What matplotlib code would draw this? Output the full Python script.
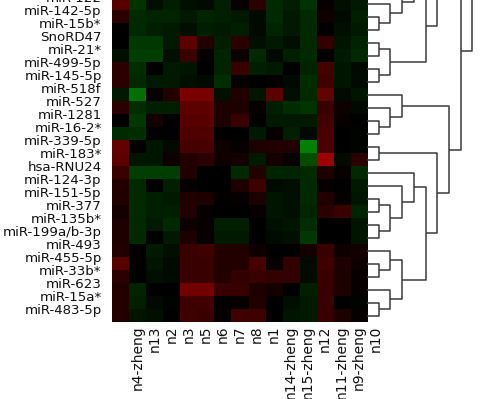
import matplotlib
matplotlib.use("Agg")
import matplotlib.pyplot as plt
import numpy as np
from matplotlib.colors import LinearSegmentedColormap
from matplotlib.transforms import blended_transform_factory, ScaledTranslation

# ---------------- data ----------------
row_labels = ["miR-122", "miR-142-5p", "miR-15b*", "SnoRD47", "miR-21*", "miR-499-5p",
              "miR-145-5p", "miR-518f", "miR-527", "miR-1281", "miR-16-2*", "miR-339-5p",
              "miR-183*", "hsa-RNU24", "miR-124-3p", "miR-151-5p", "miR-377", "miR-135b*",
              "miR-199a/b-3p", "miR-493", "miR-455-5p", "miR-33b*", "miR-623", "miR-15a*",
              "miR-483-5p"]

col_labels = ["n4-zheng", "n13", "n2", "n3", "n5", "n6", "n7", "n8", "n1",
              "n14-zheng", "n15-zheng", "n12", "n11-zheng", "n9-zheng", "n10"]

values = [
    [1.2, -1.0, -0.3, -0.6, -0.3, -0.2, -0.6, 0.1, 0.6, -0.8, -0.6, -1.0, 0.1, -0.3, -0.5],
    [0.6, -0.8, -0.7, -0.7, -0.5, -0.7, -0.6, -0.5, -0.2, -0.8, -0.5, -0.8, 0.2, -0.2, -0.6],
    [0.0, -0.8, -0.6, -0.5, -0.3, -0.6, -0.5, -0.6, -0.2, -0.7, -0.5, -0.8, 0.0, -0.3, -0.5],
    [0.0, -1.1, -1.1, -0.5, 1.3, 0.5, -0.6, 0.6, -0.3, -0.5, -0.3, -0.8, 0.7, -0.4, -0.7],
    [-0.3, -1.2, -1.2, -0.3, 0.8, 0.1, -0.7, 0.2, -0.8, -0.2, -0.6, -0.8, 0.0, -0.5, -0.8],
    [0.6, -0.9, 0.0, -0.5, -0.4, 0.0, -0.7, 0.8, -0.6, -0.5, 0.0, -0.7, 1.0, -0.4, -0.2],
    [0.6, -0.8, -0.5, -0.5, -0.3, -0.2, -0.9, 0.1, 0.0, 0.1, -0.2, -0.9, 0.9, -0.4, -0.2],
    [-0.5, -2.2, 0.1, 0.5, 1.7, 1.7, -0.3, 0.5, -0.4, 1.3, -0.3, -0.8, 1.4, -0.2, -0.4],
    [0.6, -0.9, -0.6, -0.6, 1.3, 1.3, 0.4, 0.4, 0.1, -0.6, -0.9, -1.0, 0.8, 0.2, -0.2],
    [0.0, -1.1, 0.3, 0.0, 1.2, 1.2, 0.4, 0.8, 0.0, -0.5, -0.5, -0.5, 0.9, 0.1, 0.0],
    [-0.8, -0.9, 0.0, 0.0, 1.1, 1.1, 0.0, 0.0, -0.5, 0.1, -0.6, -0.2, 1.0, 0.0, -0.1],
    [1.4, 0.0, -0.4, -0.2, 1.0, 1.0, 0.2, 0.1, 0.4, 0.5, 0.5, -2.5, 1.0, 0.0, -0.1],
    [1.3, -0.4, -0.4, 0.2, 0.5, 0.6, 0.2, 0.3, -0.5, 0.3, 0.1, -1.5, 2.2, -0.2, 0.6],
    [0.8, -1.2, -1.2, -1.2, 0.5, 0.0, 0.0, -0.8, 0.5, -0.7, -0.7, -0.8, 0.4, 0.1, -0.8],
    [0.5, -0.8, 0.0, -0.6, 0.1, 0.0, 0.0, 0.4, 0.9, -0.2, -0.3, -0.8, 0.1, 0.0, -0.5],
    [0.5, -0.8, -0.6, -0.5, 0.5, 0.4, 0.0, 0.1, 0.4, -0.4, -0.3, -0.8, 0.5, 0.1, -0.4],
    [0.3, -0.8, -0.6, -0.6, 0.5, 0.1, 0.0, 0.0, 0.1, -0.4, -0.3, -0.7, 0.6, 0.8, -0.7],
    [0.4, -0.8, -0.5, -0.8, 0.2, 0.1, -0.6, -0.6, 0.0, -0.3, -0.4, -0.9, 0.0, 0.0, -0.4],
    [0.4, -0.8, 0.0, -0.5, 0.4, 0.1, -0.5, -0.5, 0.0, -0.2, -0.3, -1.1, 0.0, 0.0, -0.4],
    [0.5, 0.0, -0.5, -0.3, 0.8, 0.9, 0.5, 0.5, 0.2, 0.0, 0.0, 0.3, 0.8, 0.2, 0.3],
    [1.2, 0.0, -0.4, -0.2, 0.8, 0.8, 0.5, 0.5, 1.0, 0.1, 0.7, -0.2, 0.9, 0.4, 0.2],
    [0.6, 0.0, -0.3, -0.2, 0.8, 0.8, 0.5, 0.7, 0.8, 0.7, 0.7, -0.2, 0.8, 0.4, 0.1],
    [0.5, -0.7, 0.0, 0.0, 1.6, 1.6, 0.8, 0.8, 0.4, 0.3, 0.0, -0.6, 0.8, 0.4, 0.1],
    [0.5, -0.6, -0.2, -0.1, 0.9, 0.9, 0.0, 0.1, 0.5, 0.0, -0.3, -0.5, 0.8, 0.0, -0.1],
    [0.5, -0.4, -0.3, 0.0, 0.9, 0.8, 0.1, 0.9, 0.9, 0.0, -0.4, -0.5, 0.8, 0.4, 0.1],
]

# row dendrogram as nested pairs of row indices (negative = rows above the visible crop)
hidden_upper = ((((-3, -4), (-5, -6)), ((-7, -8), (-9, -10))), ((-11, -12), (-13, -14)))
upper_cluster = (hidden_upper, ((-2, (-1, (0, (1, 2)))), ((3, 4), (5, 6))))
lower_cluster = ((7, (8, (9, 10))),
                 ((11, 12),
                  ((13, (14, ((15, 16), (17, 18)))),
                   ((19, (20, 21)), (22, (23, 24))))))
row_tree = ((-15, -16), (upper_cluster, lower_cluster))

# ---------------- figure ----------------
W, H = 488, 399
fig = plt.figure(figsize=(W / 100, H / 100), dpi=100)
fig.patch.set_facecolor("white")

hm_left, hm_right = 112, 367
hm_top, hm_bottom = -3, 322
ax = fig.add_axes([hm_left / W, (H - hm_bottom) / H,
                   (hm_right - hm_left) / W, (hm_bottom - hm_top) / H])

cmap = LinearSegmentedColormap.from_list("rg", [(0, 0.68, 0), (0, 0, 0), (0.95, 0, 0)])
data = np.array(values)
vmax = 3.4
ax.imshow(data, cmap=cmap, vmin=-vmax, vmax=vmax, aspect="auto",
          interpolation="nearest")
ax.set_xlim(-0.5, len(col_labels) - 0.5)
ax.set_ylim(len(row_labels) - 0.5, -0.5)
ax.set_xticks([])
ax.set_yticks([])
for s in ax.spines.values():
    s.set_visible(False)

# row labels
tr_rows = blended_transform_factory(ax.transAxes, ax.transData) + \
    ScaledTranslation(-10.3 / 100, 1.2 / 100, fig.dpi_scale_trans)
for i, lab in enumerate(row_labels):
    ax.text(0, i, lab, ha="right", va="baseline", fontsize=9.6,
            family="DejaVu Sans", color="#111111", transform=tr_rows, clip_on=False)

# column labels (drawn one column to the right as in the source)
tr_cols = blended_transform_factory(ax.transData, ax.transAxes) + \
    ScaledTranslation(0, -3.5 / 100, fig.dpi_scale_trans)
for j, lab in enumerate(col_labels):
    ax.text(j + 1, 0, lab, ha="center", va="top", rotation=90, fontsize=10.0,
            family="DejaVu Sans", color="#111111", transform=tr_cols, clip_on=False)

# ---------------- dendrogram ----------------
step = 11.7
dax = fig.add_axes([hm_right / W, (H - hm_bottom) / H,
                    (W - hm_right) / W, (hm_bottom - hm_top) / H], sharey=ax)
dax.set_xlim(0, (W - hm_right) / step)
dax.axis("off")

segs = []


def draw(node):
    if isinstance(node, int):
        return 0, float(node)
    (ha, ya) = draw(node[0])
    (hb, yb) = draw(node[1])
    h = max(ha, hb) + 1
    segs.append(([ha, h, h, hb], [ya, ya, yb, yb]))
    return h, (ya + yb) / 2


draw(row_tree)
for xs, ys in segs:
    dax.plot(xs, ys, color="#3a3a3a", lw=1.1, solid_capstyle="butt")

fig.savefig("out.png", dpi=100, facecolor="white")
